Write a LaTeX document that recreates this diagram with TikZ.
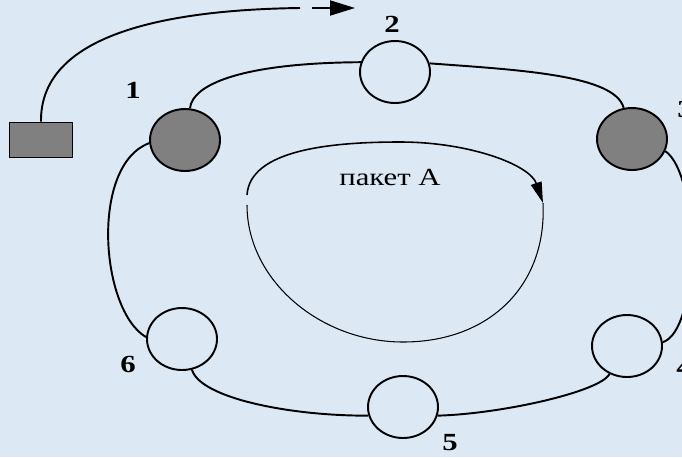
\documentclass[tikz,border=0pt]{standalone}
\usepackage{fontspec}
\setmainfont{Liberation Serif}[FakeStretch=1.25]
\usetikzlibrary{shapes.geometric, arrows.meta}
\definecolor{ring-bg}{RGB}{221,232,245}
\definecolor{ring-gray}{RGB}{128,128,128}

\begin{document}
\begin{tikzpicture}[
    x=0.02cm, y=-0.02cm,
    %% empty ring station
    stn/.style  = {ellipse, draw=black, line width=1.1pt, inner sep=0pt,
                   minimum width=1.4cm, minimum height=1.24cm},
    %% shaded ring station
    gstn/.style = {stn, fill=ring-gray},
    %% host box
    host/.style = {rectangle, draw=black, line width=1.1pt, fill=ring-gray,
                   minimum width=1.26cm, minimum height=0.7cm},
    link/.style = {line width=1.1pt},
    num/.style  = {font=\fontsize{14}{16}\selectfont\bfseries, inner sep=0pt},
]

%% ---- frame and background ----
\useasboundingbox (0,0) rectangle (682,457);
\clip (0,0) rectangle (682,457);
\fill[ring-bg] (0,0) rectangle (682,457);

%% ---- host and stations ----
\node[host] (host) at (41,140) {};

\node[gstn] (n1) at (185,140) {};
\node[stn]  (n2) at (395,72)  {};
\node[gstn] (n3) at (632,139) {};
\node[stn]  (n4) at (627,346) {};
\node[stn]  (n5) at (403,407) {};
\node[stn]  (n6) at (182,339) {};

%% station numbers
\node[num] (l1) at (133,90)  {1};
\node[num] (l2) at (392,24)  {2};
\node[num] (l3) at (685,109) {3};
\node[num] (l4) at (684,367) {4};
\node[num] (l5) at (450,443) {5};
\node[num] (l6) at (128,364) {6};

%% ---- ring links ----
\draw[link] (n1.81)   .. controls (192,85)  and (240,63)  .. (n2.164);
\draw[link] (n2.14)   .. controls (520,70)  and (615,75)  .. (n3.105);
\draw[link] (n3.-20)  .. controls (700,175) and (700,330) .. (n4.6);
\draw[link] (n4.-122) .. controls (600,392) and (500,414) .. (n5.-14);
\draw[link] (n5.194)  .. controls (290,416) and (200,398) .. (n6.-72);
\draw[link] (n6.177)  .. controls (100,310) and (90,165)  .. (n1.185);

%% ---- host output ----
\coordinate (gap)   at (300,8);
\coordinate (dashA) at (312,8);
\coordinate (tip)   at (355,8);
\draw[link] (host.north) .. controls (40,40) and (150,10) .. (gap);
\draw[link, -{Triangle[length=0.5cm, width=0.3cm]}] (dashA) -- (tip);

%% ---- packet path ----
\node[font=\fontsize{14}{16}\selectfont, anchor=base] (pkt) at (390,185) {пакет A};

\coordinate (pa) at (247,195);
\coordinate (pb) at (543,203);
\coordinate (pc) at (247,205);
\draw[line width=0.9pt, -{Triangle[length=0.42cm, width=0.22cm]}]
    (pa) .. controls (250,150) and (330,142) .. (400,142)
         .. controls (470,142) and (530,165) .. (pb);
\draw[line width=0.6pt]
    (pb) .. controls (547,285) and (490,342) .. (403,342)
         .. controls (320,342) and (247,280) .. (pc);

\end{tikzpicture}
\end{document}
